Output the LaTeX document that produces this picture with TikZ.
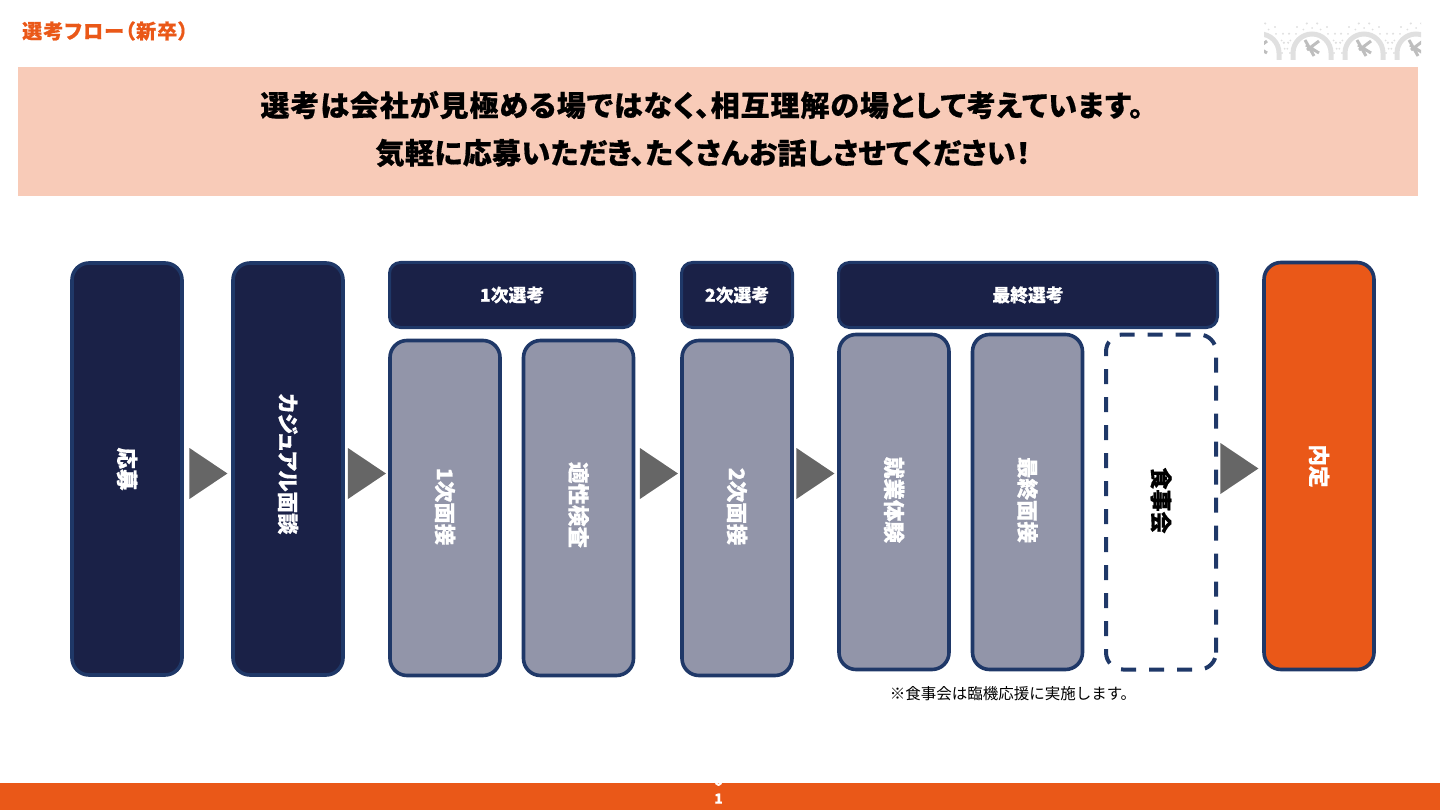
\documentclass[tikz,border=0pt]{standalone}
\usepackage{fontspec}
\setmainfont{Noto Sans CJK JP}[BoldFeatures={RawFeature=+palt,FakeBold=0.5}]
\usetikzlibrary{shapes.geometric}
\definecolor{navyfill}{RGB}{26,33,71}
\definecolor{navyline}{RGB}{31,56,104}
\definecolor{grayfill}{RGB}{146,149,169}
\definecolor{orangemain}{RGB}{234,88,24}
\definecolor{peachband}{RGB}{248,203,184}
\definecolor{arrowgray}{RGB}{102,102,102}
\definecolor{logogray}{RGB}{224,224,224}
\newcommand{\jpsize}[1]{\fontsize{#1}{#1}\selectfont\bfseries}
\newcommand{\liftlabel}[1]{\hspace*{-#1pt}}
\tikzset{
  stage/.style    = {draw=navyline, line width=3.6pt, rounded corners=17pt, rotate=-90,
                     minimum width=#1, minimum height=110pt, inner sep=0pt,
                     text=white, font=\jpsize{21.5}},
  navybox/.style  = {stage=412pt, fill=navyfill},
  graybox/.style  = {stage=#1, fill=grayfill},
  header/.style   = {draw=navyline, line width=3pt, rounded corners=11pt, fill=navyfill,
                     minimum height=65pt, inner sep=0pt, text=white, font=\jpsize{17.8}},
  flowtip/.style  = {isosceles triangle, isosceles triangle stretches, fill=arrowgray,
                     minimum width=51pt, minimum height=38pt, inner sep=0pt},
}
\begin{document}
\begin{tikzpicture}[x=1pt, y=-1pt]
  \useasboundingbox (0,0) rectangle (1440,810);
  % logo
  \begin{scope}
    \clip (1264,20) rectangle (1421,60);
    \foreach \lx in {1260,1312,1364,1416} {
      \draw[logogray, line width=5pt] (\lx-19,60) -- (\lx-19,53) arc[start angle=180, end angle=360, radius=19] -- (\lx+19,60);
      \draw[logogray!85!black, line width=3pt] (\lx-7,40) -- (\lx+2,56) (\lx+7,41) -- (\lx-5,50) (\lx-6,45) -- (\lx+7,53);
      \foreach \da in {0,20,...,180}
        \fill[logogray] ({\lx+30*cos(\da)},{53-30*sin(\da)}) circle (1.2);
      \foreach \da in {10,30,...,170}
        \fill[logogray] ({\lx+25*cos(\da)},{53-25*sin(\da)}) circle (1);
    }
  \end{scope}
  % title and band
  \node[anchor=west, inner sep=0pt, text=orangemain, font=\jpsize{20}] (title) at (22,31) {\addfontfeature{LetterSpace=5.5}選考フロー（新卒）};
  \fill[peachband] (18,67) rectangle (1418,196);
  \node[font=\jpsize{29}] (line1) at (702,105) {\addfontfeature{LetterSpace=3.2}選考は会社が見極める場ではなく、相互理解の場として考えています。};
  \node[font=\jpsize{29}] (line2) at (703,153) {\addfontfeature{LetterSpace=1.4}気軽に応募いただき、たくさんお話しさせてください！};
  % left columns
  \node[navybox] (apply) at (127,469) {応募};
  \node[navybox] (casual) at (288,469) {\liftlabel{10}カジュアル面談};
  % first round
  \node[header, minimum width=245pt] (round1) at (512,295) {1次選考};
  \node[graybox=335pt] (first) at (445,508) {\liftlabel{3}1次面接};
  \node[graybox=335pt] (aptitude) at (578.5,508) {\liftlabel{6}適性検査};
  % second round
  \node[header, minimum width=111pt] (round2) at (737,295) {2次選考};
  \node[graybox=335pt] (second) at (737,508) {\liftlabel{3}2次面接};
  % final round
  \node[header, minimum width=379pt] (roundlast) at (1028,295) {最終選考};
  \node[graybox=335pt] (trial) at (894,502) {\liftlabel{4}就業体験};
  \node[graybox=335pt] (final) at (1027.5,502) {\liftlabel{4}最終面接};
  \node[stage=335pt, line width=4pt, dash pattern=on 15pt off 13pt, text=black, font=\jpsize{22}] (dinner) at (1161,502) {\liftlabel{3}食事会};
  \node[stage=407pt, fill=orangemain, font=\jpsize{21.5}] (offer) at (1319,466) {内定};
  \node[font=\fontsize{15.5}{15.5}\selectfont] (note) at (1013,693.5) {※食事会は臨機応援に実施します。};
  % arrows between stages
  \node[flowtip] (tip1) at (203,473.5) {};
  \node[flowtip] (tip2) at (361.5,473.5) {};
  \node[flowtip] (tip3) at (653.5,473.5) {};
  \node[flowtip] (tip4) at (810,473.5) {};
  \node[flowtip] (tip5) at (1234,468.5) {};
  % footer
  \fill[orangemain] (0,783) rectangle (1440,810);
  \node[align=center, text=white, inner sep=0pt, font=\fontsize{14}{18}\selectfont\bfseries] (page) at (718.5,789.5) {0\\1};
\end{tikzpicture}
\end{document}
